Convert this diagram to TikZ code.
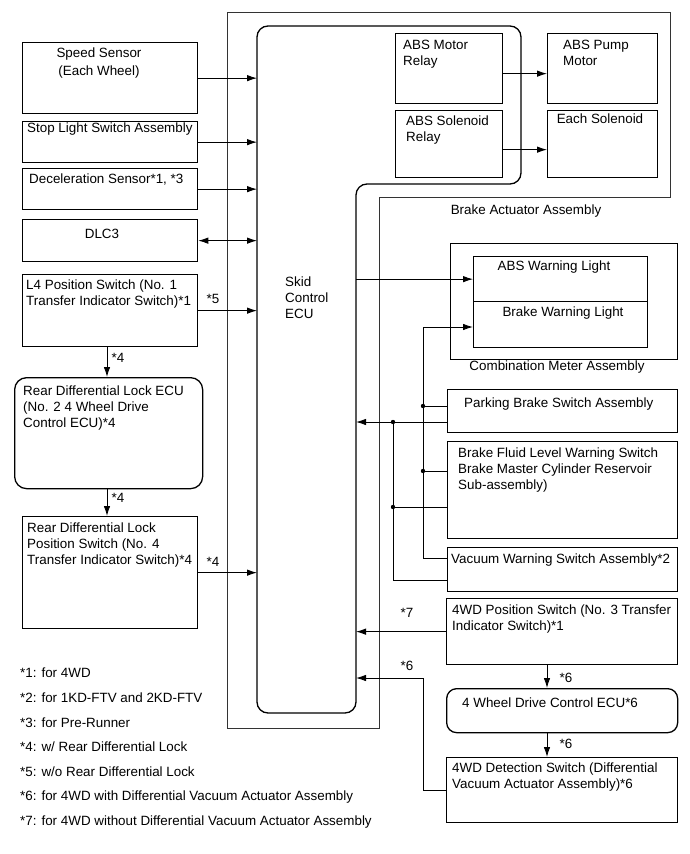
\documentclass[tikz,border=0pt]{standalone}
\usepackage{fontspec}
\setmainfont{Liberation Sans}
\usetikzlibrary{arrows.meta}
\begin{document}
\begin{tikzpicture}[x=1pt,y=-1pt,
  every node/.style={font=\fontsize{13.4}{16}\selectfont, inner sep=0pt},
  box/.style={draw, line width=1.3pt, anchor=north west},
  rbox/.style={box, rounded corners=12pt},
  txt/.style={anchor=north west, align=left},
  ctxt/.style={anchor=center, align=center},
  ln/.style={line width=0.9pt},
  arr/.style={ln, -{Latex[length=10pt,width=6.5pt]}},
  darr/.style={ln, {Latex[length=10pt,width=6.5pt]}-{Latex[length=10pt,width=6.5pt]}},
  dot/.style={fill=black}]
\useasboundingbox (0,0) rectangle (690,854);

% Brake actuator assembly outline
\draw[line width=0.8pt, black!80] (227,12) -- (670,12) -- (670,197) -- (379,197) -- (379,728) -- (227,728) -- cycle;
\node[ctxt] (bact) at (526,211) {Brake Actuator Assembly};

% Skid control ECU
\draw[line width=1.3pt, rounded corners=11pt] (257,26) -- (521,26) -- (521,184) -- (356,184) -- (356,713) -- (257,713) -- cycle;
\coordinate (ecuL) at (257,0);
\coordinate (ecuR) at (356,0);
\node[txt] (ecut) at (285,277) {Skid\\Control\\ECU};

% Left boxes
\node[box, minimum width=175pt, minimum height=71pt] (speed) at (22,42) {};
\node[ctxt] (speedt) at (99,63) {Speed Sensor\\[2pt](Each Wheel)};
\node[box, minimum width=175pt, minimum height=41pt] (stop) at (22,121) {};
\node[txt] (stopt) at (27,123) {Stop Light Switch Assembly};
\node[box, minimum width=175pt, minimum height=41pt] (decel) at (22,168) {};
\node[txt] (decelt) at (29,174) {Deceleration Sensor*1, *3};
\node[box, minimum width=175pt, minimum height=42pt] (dlc) at (22,219) {};
\node[ctxt] (dlct) at (102,234) {DLC3};
\node[box, minimum width=175pt, minimum height=72pt] (l4) at (22,274) {};
\node[txt] (l4t) at (26,280) {L4 Position Switch (No. 1\\Transfer Indicator Switch)*1};
\node[rbox, minimum width=188pt, minimum height=111pt] (rdecu) at (14,377) {};
\node[txt] (rdecut) at (23,386) {Rear Differential Lock ECU\\(No. 2 4 Wheel Drive\\Control ECU)*4};
\node[box, minimum width=175pt, minimum height=112pt] (rdpos) at (22,516) {};
\node[txt] (rdpost) at (27,523) {Rear Differential Lock\\Position Switch (No. 4\\Transfer Indicator Switch)*4};

% Actuator inner boxes
\node[box, minimum width=107pt, minimum height=70pt] (motrel) at (395,33) {};
\node[txt] (motrelt) at (403,40) {ABS Motor\\Relay};
\node[box, minimum width=107pt, minimum height=67pt] (solrel) at (395,110) {};
\node[txt] (solrelt) at (406,116) {ABS Solenoid\\Relay};
\node[box, minimum width=110pt, minimum height=70pt] (pump) at (547,33) {};
\node[txt] (pumpt) at (563,40) {ABS Pump\\Motor};
\node[box, minimum width=110pt, minimum height=67pt] (eachsol) at (547,110) {};
\node[ctxt] (eachsolt) at (600,119) {Each Solenoid};

% Combination meter
\node[box, minimum width=227pt, minimum height=116pt] (cmout) at (450,243) {};
\node[box, minimum width=174pt, minimum height=45pt] (abswl) at (473,256) {};
\node[box, minimum width=174pt, minimum height=46pt] (brkwl) at (473,301) {};
\node[ctxt] (abswlt) at (554,267) {ABS Warning Light};
\node[ctxt] (brkwlt) at (563,313) {Brake Warning Light};
\node[ctxt] (cmt) at (557,367) {Combination Meter Assembly};

% Right switches
\node[box, minimum width=230pt, minimum height=43pt] (park) at (447,389) {};
\node[txt] (parkt) at (464,398) {Parking Brake Switch Assembly};
\node[box, minimum width=230pt, minimum height=97pt] (fluid) at (447,441) {};
\node[txt] (fluidt) at (458,448) {Brake Fluid Level Warning Switch\\Brake Master Cylinder Reservoir\\Sub-assembly)};
\node[box, minimum width=230pt, minimum height=44pt] (vac) at (447,547) {};
\node[txt] (vact) at (451,554) {Vacuum Warning Switch Assembly*2};
\node[box, minimum width=231pt, minimum height=66pt] (pos4) at (446,598) {};
\node[txt] (pos4t) at (452,605) {4WD Position Switch (No. 3 Transfer\\Indicator Switch)*1};
\node[rbox, rounded corners=10pt, minimum width=231pt, minimum height=44pt] (ecu4) at (446,688) {};
\node[txt] (ecu4t) at (462,698) {4 Wheel Drive Control ECU*6};
\node[box, minimum width=231pt, minimum height=65pt] (det) at (446,757) {};
\node[txt] (dett) at (452,763) {4WD Detection Switch (Differential\\Vacuum Actuator Assembly)*6};

% Left connectors
\draw[arr] (speed.east) -- (speed.east -| ecuL);
\draw[arr] (stop.east) -- (stop.east -| ecuL);
\draw[arr] (decel.east) -- (decel.east -| ecuL);
\draw[darr] (dlc.east) -- (dlc.east -| ecuL);
\draw[arr] (l4.east) -- (l4.east -| ecuL);
\draw[arr] (rdpos.east) -- (rdpos.east -| ecuL);
\coordinate (lx) at (107,0);
\draw[arr] (l4.south -| lx) -- (rdecu.north -| lx);
\draw[arr] (rdecu.south -| lx) -- (rdpos.north -| lx);
\node (l5) at (213,299) {*5};
\node (l4a) at (213,562) {*4};
\node (l4b) at (118,358) {*4};
\node (l4c) at (118,498) {*4};

% Actuator connectors
\draw[arr] ([yshift=-5pt]motrel.east) -- ([yshift=-5pt]motrel.east -| pump.west);
\draw[arr] ([yshift=-5.5pt]solrel.east) -- ([yshift=-5.5pt]solrel.east -| eachsol.west);

% ECU to warning light
\draw[arr] (abswl.west -| ecuR) -- (abswl.west);

% Bus A (to brake warning light)
\coordinate (A0) at (423,327);
\coordinate (A1) at (423,406);
\coordinate (A2) at (423,471);
\coordinate (A3) at (423,558);
\draw[arr] (A0) -- (A0 -| brkwl.west);
\draw[ln] (A0) -- (A3) -- (A3 -| vac.west);
\draw[ln] (A1) -- (A1 -| park.west);
\draw[ln] (A2) -- (A2 -| fluid.west);
\fill[dot] (A1) circle (2.2pt);
\fill[dot] (A2) circle (2.2pt);

% Bus B (to skid control ECU)
\coordinate (B0) at (393,422);
\coordinate (B1) at (393,507);
\coordinate (B2) at (393,580);
\draw[arr] (B0 -| park.west) -- (B0 -| ecuR);
\draw[ln] (B0) -- (B2) -- (B2 -| vac.west);
\draw[ln] (B1) -- (B1 -| fluid.west);
\fill[dot] (B0) circle (2.2pt);
\fill[dot] (B1) circle (2.2pt);

% 4WD connectors
\draw[arr] (pos4.west) -- (pos4.west -| ecuR);
\coordinate (dx) at (547,0);
\draw[arr] (pos4.south -| dx) -- (ecu4.north -| dx);
\draw[arr] (ecu4.south -| dx) -- (det.north -| dx);
\coordinate (C0) at (423,678);
\draw[arr] (det.west) -| (C0) -- (C0 -| ecuR);
\node (l7) at (407,613) {*7};
\node (l6a) at (407,666) {*6};
\node (l6b) at (566,678) {*6};
\node (l6c) at (566,744) {*6};

% Footnotes
\node[anchor=west] (f1) at (20,673) {*1: for 4WD};
\node[anchor=west] (f2) at (20,698) {*2: for 1KD-FTV and 2KD-FTV};
\node[anchor=west] (f3) at (20,723) {*3: for Pre-Runner};
\node[anchor=west] (f4) at (20,747) {*4: w/ Rear Differential Lock};
\node[anchor=west] (f5) at (20,772) {*5: w/o Rear Differential Lock};
\node[anchor=west] (f6) at (20,797) {*6: for 4WD with Differential Vacuum Actuator Assembly};
\node[anchor=west] (f7) at (20,822) {*7: for 4WD without Differential Vacuum Actuator Assembly};
\end{tikzpicture}
\end{document}
